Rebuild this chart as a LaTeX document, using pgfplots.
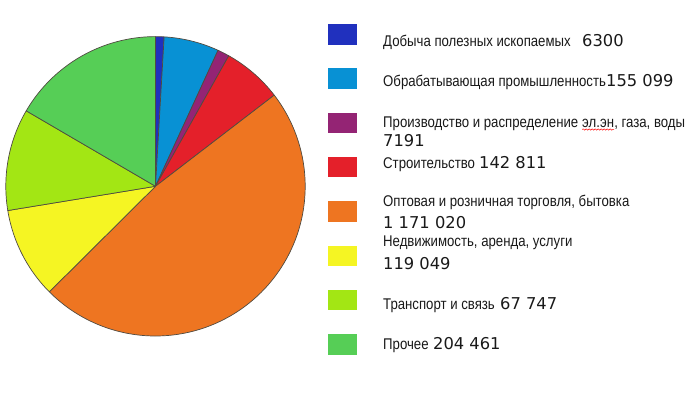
\documentclass[border=0pt]{standalone}
\usepackage{fontspec}
\usepackage{pgfplots}
\pgfplotsset{compat=1.18}
\usetikzlibrary{decorations.pathmorphing}
\newfontfamily\labfont[FakeStretch=0.851]{Liberation Sans}
\newfontfamily\numfont{DejaVu Sans}
\definecolor{cA}{RGB}{32,48,190}
\definecolor{cB}{RGB}{8,145,212}
\definecolor{cC}{RGB}{148,36,116}
\definecolor{cD}{RGB}{228,32,42}
\definecolor{cE}{RGB}{238,117,33}
\definecolor{cF}{RGB}{245,245,35}
\definecolor{cG}{RGB}{163,230,20}
\definecolor{cH}{RGB}{86,206,86}
\definecolor{edge}{RGB}{80,75,65}
\definecolor{txt}{RGB}{25,25,25}
% slice shares (percent of the circle)
\pgfmathsetmacro{\bA}{0.92}
\pgfmathsetmacro{\bB}{\bA+5.94}
\pgfmathsetmacro{\bC}{\bB+1.28}
\pgfmathsetmacro{\bD}{\bC+6.44}
\pgfmathsetmacro{\bE}{\bD+47.97}
\pgfmathsetmacro{\bF}{\bE+9.86}
\pgfmathsetmacro{\bG}{\bF+11.00}
\def\bH{100}
\newcommand\LT[1]{{\labfont\fontsize{15.5}{18}\selectfont #1}}
\newcommand\NT[1]{{\numfont\fontsize{16.3}{18}\selectfont #1}}
\newsavebox\wavebox
\begin{document}
\sbox\wavebox{\begin{tikzpicture}[baseline=(w.base)]
\node[inner sep=0pt, outer sep=0pt, text=txt] (w) {\LT{эл.эн}};
\draw[red, line width=0.5pt, decorate, decoration={snake, amplitude=0.7pt, segment length=3pt}] ([yshift=-2.5pt]w.base west) -- ([yshift=-2.5pt]w.base east);
\end{tikzpicture}}%
\begin{tikzpicture}
\begin{axis}[
  width=692pt, height=397pt, scale only axis,
  xmin=0, xmax=692, ymin=0, ymax=397, y dir=reverse,
  axis line style={draw=none}, xtick=\empty, ytick=\empty,
  clip=false,
]
% pie slices, clockwise from 12 o'clock, x in percent of the circle
\pgfplotsset{pie/.style={draw=edge, line width=0.7pt, line join=round, samples=#1}}
\addplot[pie=10, fill=cA, domain=0:\bA] ({155.5+149.7*sin(3.6*x)}, {186.3-149.7*cos(3.6*x)}) -- (axis cs:155.5,186.3) -- cycle;
\addplot[pie=30, fill=cB, domain=\bA:\bB] ({155.5+149.7*sin(3.6*x)}, {186.3-149.7*cos(3.6*x)}) -- (axis cs:155.5,186.3) -- cycle;
\addplot[pie=10, fill=cC, domain=\bB:\bC] ({155.5+149.7*sin(3.6*x)}, {186.3-149.7*cos(3.6*x)}) -- (axis cs:155.5,186.3) -- cycle;
\addplot[pie=30, fill=cD, domain=\bC:\bD] ({155.5+149.7*sin(3.6*x)}, {186.3-149.7*cos(3.6*x)}) -- (axis cs:155.5,186.3) -- cycle;
\addplot[pie=120, fill=cE, domain=\bD:\bE] ({155.5+149.7*sin(3.6*x)}, {186.3-149.7*cos(3.6*x)}) -- (axis cs:155.5,186.3) -- cycle;
\addplot[pie=40, fill=cF, domain=\bE:\bF] ({155.5+149.7*sin(3.6*x)}, {186.3-149.7*cos(3.6*x)}) -- (axis cs:155.5,186.3) -- cycle;
\addplot[pie=40, fill=cG, domain=\bF:\bG] ({155.5+149.7*sin(3.6*x)}, {186.3-149.7*cos(3.6*x)}) -- (axis cs:155.5,186.3) -- cycle;
\addplot[pie=60, fill=cH, domain=\bG:\bH] ({155.5+149.7*sin(3.6*x)}, {186.3-149.7*cos(3.6*x)}) -- (axis cs:155.5,186.3) -- cycle;
% legend swatches
\addplot[fill=cA, draw=none] coordinates {(327.5,24.0) (357,24.0) (357,44.5) (327.5,44.5)} -- cycle;
\addplot[fill=cB, draw=none] coordinates {(327.5,68.3) (357,68.3) (357,88.8) (327.5,88.8)} -- cycle;
\addplot[fill=cC, draw=none] coordinates {(327.5,112.6) (357,112.6) (357,133.1) (327.5,133.1)} -- cycle;
\addplot[fill=cD, draw=none] coordinates {(327.5,156.9) (357,156.9) (357,177.4) (327.5,177.4)} -- cycle;
\addplot[fill=cE, draw=none] coordinates {(327.5,201.2) (357,201.2) (357,221.7) (327.5,221.7)} -- cycle;
\addplot[fill=cF, draw=none] coordinates {(327.5,245.5) (357,245.5) (357,266.0) (327.5,266.0)} -- cycle;
\addplot[fill=cG, draw=none] coordinates {(327.5,289.8) (357,289.8) (357,310.3) (327.5,310.3)} -- cycle;
\addplot[fill=cH, draw=none] coordinates {(327.5,334.1) (357,334.1) (357,354.6) (327.5,354.6)} -- cycle;
% legend texts
\begin{scope}[every node/.style={anchor=base west, inner sep=0pt, text=txt}]
\node at (axis cs:383,46.5) {\LT{Добыча полезных ископаемых}};
\node at (axis cs:582,46.5) {\NT{6300}};
\node at (axis cs:383,86.7) {\LT{Обрабатывающая промышленность}};
\node at (axis cs:606,86.7) {\NT{155 099}};
\node at (axis cs:383,127) {\LT{Производство и распределение \usebox\wavebox, газа, воды}};
\node at (axis cs:383,146.5) {\NT{7191}};
\node at (axis cs:383,168.3) {\LT{Строительство}};
\node at (axis cs:479,168.3) {\NT{142 811}};
\node at (axis cs:383,206.7) {\LT{Оптовая и розничная торговля, бытовка}};
\node at (axis cs:383,228.3) {\NT{1 171 020}};
\node at (axis cs:383,246.5) {\LT{Недвижимость, аренда, услуги}};
\node at (axis cs:383,269.3) {\NT{119 049}};
\node at (axis cs:383,309.3) {\LT{Транспорт и связь}};
\node at (axis cs:500,309.3) {\NT{67 747}};
\node at (axis cs:383,349.3) {\LT{Прочее}};
\node at (axis cs:433,349.3) {\NT{204 461}};
\end{scope}
\end{axis}
\end{tikzpicture}
\end{document}
